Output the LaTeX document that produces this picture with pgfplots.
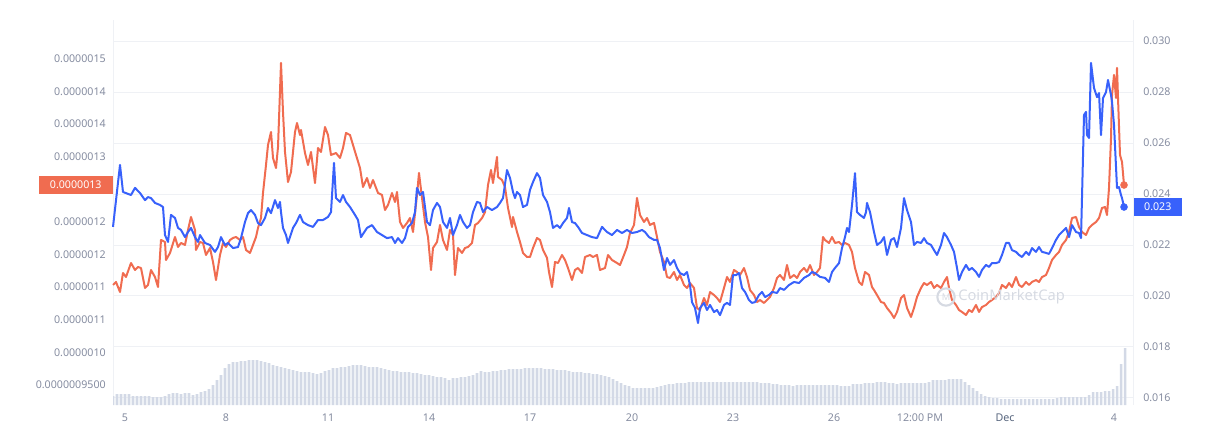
\documentclass[border=0pt]{standalone}
\usepackage{fontspec}
\setmainfont{Noto Sans}
\usepackage{pgfplots}
\pgfplotsset{compat=1.18}
\definecolor{cmcred}{HTML}{F06C50}
\definecolor{cmcblue}{HTML}{3861FB}
\definecolor{tickgray}{HTML}{858CA0}
\definecolor{decgray}{HTML}{58667E}
\definecolor{gridgray}{HTML}{EFF1F5}
\definecolor{volbar}{HTML}{D3D9E6}
\definecolor{wmgray}{HTML}{D6DAE2}
\begin{document}
\begin{tikzpicture}[x=0.75pt,y=0.75pt]
\useasboundingbox (0,0) rectangle (1219,447);
\pgfplotsset{
  base/.style={scale only axis, width=765pt, height=288.75pt,
    at={(84.75pt,31.5pt)}, anchor=south west, xmin=113, xmax=1133,
    axis line style={draw=none}, major tick length=0pt,
    tick label style={font=\fontsize{8}{9}\selectfont, text=tickgray}},
}
% grid
\begin{axis}[base, ymin=15.725, ymax=30.824, ytick={16,18,20,22,24,26,28,30},
  xtick={113,1133}, xmajorgrids, ymajorgrids, grid style={gridgray, line width=0.75pt},
  xticklabels={}, yticklabels={}]
\end{axis}
% volume
\begin{axis}[base, ymin=0, ymax=385, ytick=\empty,
  xtick={125,226,328,429,530,632,733,834,920,1005,1114},
  xticklabels={5,8,11,14,17,20,23,26,12:00 PM,{\textbf{\color{decgray}Dec}},4},
  xticklabel style={anchor=north, inner sep=0pt, yshift=-6.5pt}]
\addplot[ybar, bar width=1.9pt, fill=volbar, draw=none] table {
x h
113 9
117 11
121 11
125 11
129 11
133 9
137 9
141 9
145 9
149 9
153 8
157 8
161 8
165 9
169 11
173 12
177 12
181 11
185 12
189 12
193 10
197 11
201 13
205 14
209 16
213 20
217 25
221 30
225 37
229 41
233 43
237 43
241 44
245 44
249 45
253 45
257 45
261 44
265 43
269 42
273 40
277 39
281 38
285 37
289 36
293 35
297 34
301 33
305 33
309 33
313 32
317 31
321 32
325 34
329 35
333 37
337 37
341 38
345 38
349 39
353 40
357 40
361 40
365 39
369 38
373 38
377 38
381 37
385 36
389 35
393 34
397 34
401 33
405 33
409 33
413 32
417 32
421 31
425 30
429 30
433 29
437 28
441 28
445 27
449 25
453 27
457 27
461 28
465 28
469 29
473 30
477 32
481 34
485 33
489 33
493 34
497 34
501 35
505 35
509 36
513 36
517 36
521 36
525 37
529 37
533 37
537 37
541 37
545 36
549 36
553 36
557 35
561 35
565 35
569 34
573 33
577 33
581 33
585 32
589 32
593 31
597 31
601 30
605 29
609 28
613 26
617 24
621 22
625 20
629 19
633 17
637 17
641 17
645 17
649 17
653 17
657 18
661 19
665 20
669 21
673 21
677 22
681 22
685 22
689 23
693 23
697 23
701 23
705 23
709 23
713 23
717 23
721 23
725 23
729 23
733 23
737 23
741 23
745 23
749 23
753 23
757 23
761 22
765 22
769 22
773 21
777 21
781 20
785 20
789 20
793 19
797 20
801 20
805 20
809 20
813 20
817 20
821 20
825 20
829 20
833 20
837 20
841 19
845 19
849 19
853 21
857 21
861 21
865 22
869 22
873 22
877 23
881 23
885 23
889 22
893 22
897 21
901 22
905 22
909 22
913 22
917 22
921 22
925 22
929 23
933 25
937 25
941 25
945 25
949 26
953 26
957 26
961 26
965 23
969 20
973 17
977 14
981 11
985 9
989 8
993 7
997 7
1001 6
1005 6
1009 6
1013 6
1017 6
1021 6
1025 6
1029 6
1033 6
1037 6
1041 6
1045 6
1049 6
1053 6
1057 7
1061 8
1065 8
1069 8
1073 8
1077 8
1081 8
1085 8
1089 10
1093 13
1097 13
1101 13
1105 14
1109 14
1113 16
1117 19
1121 41
1125 57
};
\end{axis}
% red series (left axis, values in units of 1e-6)
\begin{axis}[base, clip=false, ymin=0.9193, ymax=1.5098, xtick=\empty,
  ytick={0.95,1,1.05,1.1,1.15,1.2,1.3,1.35,1.4,1.45},
  yticklabels={0.0000009500,0.0000010,0.0000011,0.0000011,0.0000012,0.0000012,0.0000013,0.0000014,0.0000014,0.0000015},
  yticklabel style={anchor=east, inner sep=0pt, xshift=-5.25pt}]
\addplot[cmcred, line width=1.5pt, line join=round] table {
x p
113 1.1034
116 1.1080
120 1.0926
123 1.1218
126 1.1156
131 1.1371
135 1.1264
138 1.1310
141 1.1294
145 1.0988
148 1.1034
151 1.1264
155 1.1156
158 1.1003
161 1.1724
165 1.1693
166 1.1417
170 1.1525
175 1.1770
178 1.1617
181 1.1678
185 1.1647
188 1.1877
191 1.2077
195 1.1877
196 1.1571
200 1.1693
203 1.1678
206 1.1494
210 1.1601
213 1.1387
216 1.1110
220 1.1494
223 1.1678
226 1.1617
230 1.1724
233 1.1755
236 1.1770
240 1.1724
243 1.1770
246 1.1571
250 1.1525
253 1.1647
256 1.1770
258 1.1908
261 1.2061
263 1.2445
266 1.2874
268 1.3181
271 1.3380
273 1.2982
276 1.2828
278 1.3150
281 1.4439
283 1.3687
285 1.3074
288 1.2613
291 1.2767
295 1.3380
297 1.3518
300 1.3334
301 1.3411
305 1.3058
308 1.2874
311 1.3074
315 1.2598
318 1.3135
321 1.3074
325 1.3457
328 1.3334
331 1.3028
336 1.3058
340 1.2982
343 1.3135
346 1.3365
350 1.3334
353 1.3181
356 1.3028
360 1.2828
363 1.2537
367 1.2675
370 1.2521
373 1.2644
378 1.2445
382 1.2414
385 1.2184
388 1.2261
392 1.2445
395 1.2307
397 1.2460
400 1.2000
403 1.1908
407 1.1985
410 1.2061
413 1.1847
417 1.2414
419 1.2752
422 1.2368
425 1.2000
428 1.1770
431 1.1264
433 1.1601
437 1.1693
440 1.1954
443 1.1724
447 1.1571
450 1.1877
453 1.1801
455 1.1187
458 1.1601
462 1.1525
465 1.1601
468 1.1617
472 1.1678
475 1.1954
478 1.1985
482 1.2061
485 1.2153
488 1.2567
491 1.2798
493 1.2598
497 1.2997
498 1.2690
502 1.2644
505 1.2537
508 1.2215
512 1.1923
513 1.2077
517 1.1847
520 1.1693
523 1.1525
527 1.1463
530 1.1463
533 1.1601
537 1.1755
540 1.1724
543 1.1571
547 1.1448
549 1.1233
552 1.1003
555 1.1387
558 1.1371
562 1.1494
565 1.1417
568 1.1294
572 1.1110
575 1.1264
578 1.1294
582 1.1218
585 1.1463
590 1.1494
593 1.1463
597 1.1494
600 1.1264
605 1.1294
608 1.1494
612 1.1417
617 1.1371
620 1.1340
624 1.1494
627 1.1617
630 1.1831
634 1.1954
637 1.2368
640 1.2107
644 1.2000
647 1.2061
650 1.1954
654 1.1985
657 1.1770
660 1.1540
664 1.1387
667 1.1156
670 1.1141
674 1.1233
677 1.1110
680 1.1187
684 1.1034
687 1.0988
690 1.1064
694 1.0988
697 1.0681
700 1.0650
704 1.0834
707 1.0727
710 1.0926
714 1.0880
717 1.0834
720 1.0773
724 1.0988
727 1.1156
730 1.1080
734 1.1264
737 1.1233
740 1.1187
744 1.1294
747 1.1156
750 1.0957
754 1.0880
757 1.0773
760 1.0804
764 1.0758
767 1.0804
770 1.0850
774 1.0988
777 1.1141
780 1.1187
784 1.1110
787 1.1340
790 1.1141
794 1.1187
797 1.1141
800 1.1233
804 1.1294
807 1.1233
810 1.1340
814 1.1187
817 1.1233
820 1.1294
823 1.1770
825 1.1724
829 1.1678
832 1.1770
835 1.1678
839 1.1693
842 1.1647
845 1.1678
849 1.1647
852 1.1540
855 1.1294
859 1.1080
862 1.1034
865 1.1233
869 1.1187
872 1.1003
874 1.0957
877 1.0880
881 1.0773
884 1.0758
887 1.0681
891 1.0604
894 1.0528
897 1.0620
901 1.0834
904 1.0880
907 1.0681
911 1.0543
914 1.0681
917 1.0850
921 1.0988
924 1.1064
927 1.1034
931 1.1080
934 1.0988
937 1.1034
941 1.0988
944 1.1080
947 1.1156
949 1.0988
952 1.0804
956 1.0727
959 1.0650
962 1.0620
966 1.0574
969 1.0650
972 1.0620
976 1.0727
979 1.0620
982 1.0696
986 1.0727
989 1.0773
992 1.0804
996 1.0850
999 1.0911
1002 1.1034
1006 1.0988
1009 1.1064
1012 1.1003
1016 1.1156
1019 1.1034
1022 1.1003
1026 1.1080
1029 1.1034
1032 1.1080
1036 1.1110
1039 1.1080
1042 1.1156
1046 1.1187
1049 1.1294
1052 1.1417
1056 1.1494
1059 1.1540
1062 1.1647
1066 1.1724
1069 1.1847
1072 1.2061
1076 1.2077
1079 1.1923
1082 1.1847
1086 1.1801
1089 1.1908
1092 1.1954
1096 1.2000
1099 1.2061
1102 1.2215
1105 1.2230
1107 1.2107
1109 1.2521
1111 1.3288
1112 1.3948
1114 1.4255
1116 1.3902
1117 1.4362
1118 1.3902
1120 1.3028
1122 1.2920
1124 1.2567
};
\addplot[only marks, mark=*, mark size=2.6pt, cmcred] coordinates {(1124,1.2567)};
\node[anchor=east, fill=cmcred, text=white, inner sep=0pt, minimum width=55.5pt, minimum height=13.5pt,
  font=\fontsize{8}{9}\selectfont\bfseries] at (axis cs:113,1.2567) {0.0000013};
\end{axis}
% blue series (right axis, values in units of 1e-3)
\begin{axis}[base, clip=false, ymin=15.725, ymax=30.824, xtick=\empty,
  ytick={16,18,20,22,24,26,28,30},
  yticklabels={0.016,0.018,0.020,0.022,0.024,0.026,0.028,0.030},
  yticklabel pos=right,
  yticklabel style={anchor=west, inner sep=0pt, xshift=7.5pt}]
\addplot[cmcblue, line width=1.5pt, line join=round] table {
x b
113 22.71
120 25.14
123 24.08
131 23.96
135 24.24
140 24.04
145 23.76
148 23.88
151 23.84
155 23.65
160 23.57
163 23.49
165 22.39
168 22.12
171 23.18
175 23.06
178 22.67
181 22.59
185 22.31
188 22.51
191 22.67
195 22.31
198 22.12
200 22.39
205 22.08
210 22.00
215 21.73
218 21.92
221 22.31
225 22.00
228 22.08
233 21.88
238 21.92
241 22.27
245 22.90
248 23.25
251 23.37
255 23.18
258 22.86
261 22.78
265 23.06
268 23.45
271 23.25
275 23.76
278 23.45
280 23.69
281 23.29
283 22.67
286 22.39
288 22.08
293 22.67
296 22.86
300 23.18
303 22.90
308 22.78
313 22.71
318 22.98
323 22.98
328 23.10
331 23.29
334 25.22
336 23.84
340 23.69
343 23.96
346 23.69
350 23.49
355 23.18
358 22.98
361 22.31
367 22.67
372 22.78
377 22.51
382 22.39
387 22.27
392 22.31
395 22.08
398 22.27
402 22.08
405 22.27
408 22.71
412 22.86
415 23.29
417 24.24
420 23.96
423 24.08
427 22.90
430 22.78
433 23.37
437 23.65
440 23.49
443 22.90
447 22.67
450 23.06
453 22.39
457 22.78
460 23.18
463 22.90
467 22.67
470 22.78
473 23.29
477 23.69
480 23.65
483 23.29
487 23.49
492 23.37
497 23.49
500 23.65
503 23.84
507 24.94
510 24.63
513 24.08
515 23.84
517 24.08
520 23.96
523 23.49
527 23.57
530 24.16
533 24.47
537 24.82
540 24.63
543 23.96
547 23.69
550 23.29
553 22.67
557 22.78
560 22.67
563 22.86
567 23.06
569 23.45
572 22.90
575 22.86
578 22.71
582 22.47
587 22.39
592 22.31
597 22.27
602 22.71
607 22.51
612 22.39
617 22.59
622 22.47
627 22.59
632 22.47
637 22.51
642 22.59
645 22.51
649 22.31
654 22.20
657 22.20
660 21.88
664 21.02
667 21.49
670 21.22
674 21.41
677 21.10
680 20.90
684 20.82
687 20.94
690 20.43
692 19.76
695 19.53
698 18.94
700 19.53
704 19.73
707 19.45
710 19.65
714 19.37
717 19.45
720 19.25
724 19.65
727 19.73
730 19.65
733 20.82
736 20.82
739 20.90
742 20.31
745 20.16
749 19.84
752 19.73
755 19.76
759 20.04
762 20.16
765 19.96
769 20.04
772 20.16
777 20.12
780 20.31
784 20.24
789 20.43
794 20.55
799 20.51
804 20.71
809 20.82
812 20.94
815 20.90
820 20.75
825 20.71
829 20.55
832 20.94
835 21.10
839 21.29
842 21.88
845 22.31
847 22.67
849 22.51
852 23.57
855 24.82
857 23.29
860 23.18
864 23.06
866 23.29
867 23.65
870 23.29
874 22.51
877 22.00
881 22.12
884 22.31
887 21.61
891 22.20
894 22.27
897 21.92
901 22.67
904 23.84
907 23.37
911 22.90
914 22.00
917 22.12
921 22.08
924 22.27
927 22.08
931 22.00
934 21.80
937 21.61
941 22.00
944 22.47
947 22.31
951 22.00
954 21.73
957 21.10
959 20.63
962 20.94
966 21.22
969 21.02
972 21.10
976 20.94
979 20.75
982 21.02
986 21.22
989 21.14
992 21.29
996 21.29
999 21.33
1002 21.61
1006 22.08
1009 22.08
1012 21.80
1016 21.73
1019 21.61
1022 21.53
1026 21.73
1029 21.61
1032 21.88
1036 21.73
1039 21.92
1042 21.73
1046 21.69
1049 21.65
1052 21.88
1056 22.20
1059 22.39
1062 22.51
1066 22.67
1069 22.31
1072 22.78
1076 22.51
1079 22.47
1081 22.27
1084 27.10
1086 27.22
1087 26.31
1089 26.20
1091 29.14
1094 28.16
1097 27.80
1099 27.96
1101 26.31
1103 27.76
1106 28.00
1108 28.47
1111 27.88
1112 27.61
1114 26.71
1117 24.24
1119 24.27
1121 23.96
1122 23.84
1124 23.49
};
\addplot[only marks, mark=*, mark size=2.6pt, cmcblue] coordinates {(1124,23.49)};
\node[anchor=west, fill=cmcblue, text=white, inner sep=0pt, minimum width=36pt, minimum height=14pt,
  font=\fontsize{8}{9}\selectfont\bfseries] at (axis cs:1133.5,23.49) {0.023};
\draw[wmgray, line width=1.6pt] (axis cs:946,19.96) circle[radius=6.5pt];
\node[text=wmgray, inner sep=0pt, font=\fontsize{7}{8}\selectfont\bfseries]
  at (axis cs:946,19.96) {M};
\node[anchor=west, text=wmgray, inner sep=0pt, font=\fontsize{11}{12}\selectfont\bfseries]
  at (axis cs:958,19.96) {CoinMarketCap};
\end{axis}
\end{tikzpicture}
\end{document}
